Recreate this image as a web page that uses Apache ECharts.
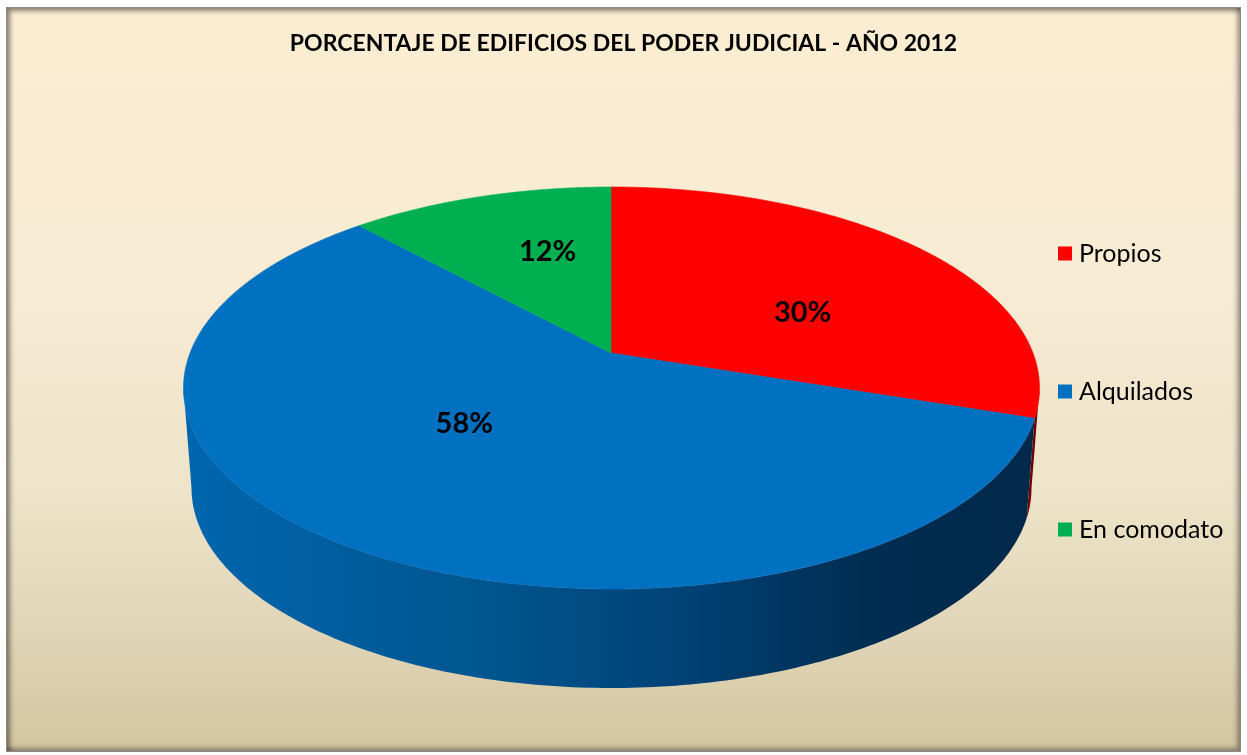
<!DOCTYPE html>
<html><head><meta charset="utf-8">
<script src="https://cdn.jsdelivr.net/npm/echarts@6/dist/echarts.min.js"></script>
<style>
html,body{margin:0;padding:0;background:#fff;width:1247px;height:755px;overflow:hidden}
#frame{position:absolute;left:6px;top:7px;width:1233px;height:743px;border:1px solid #8a8a8a;
background:linear-gradient(to bottom,#FCEDD2 0%,#F8ECD4 35%,#EEE4C9 65%,#DFD4B6 85%,#D3C5A0 100%);
box-shadow: inset 3px 3px 5px rgba(0,0,0,0.45), inset -3px -3px 5px rgba(0,0,0,0.35);}
#chart{position:absolute;left:0;top:0;width:1247px;height:755px}
</style></head><body><div id="frame"></div><div id="chart"></div>
<script>
const categories = ['Propios', 'Alquilados', 'En comodato'];
const values = [30, 58, 12];
const chartTitle = 'PORCENTAJE DE EDIFICIOS DEL PODER JUDICIAL - AÑO 2012';

const topColors = ['#FF0000', '#0070C0', '#00B050'];
const sideStops = [
  [[0,'#B00000'],[1,'#700000']],
  [[0,'#0066AE'],[0.35,'#00568F'],[0.55,'#00457A'],[0.8,'#002D52'],[1,'#00284A']],
  [[0,'#009040'],[1,'#005020']]
];

const total = values.reduce((a,b)=>a+b,0);
const starts = []; let acc = 0;
values.forEach(v => { starts.push(acc / total * 360); acc += v; });

// projected 3D pie layout
const G = {ax:611, ay:353, cx:611.5, cy:388, rx:428, ry:201, k:0.475, bcx:611.5, bcy:488, brx:420, bry:200};
function rim(theta){
  const r = theta*Math.PI/180;
  const dx = Math.sin(r), dy = -G.k*Math.cos(r);
  const px = G.ax-G.cx, py = G.ay-G.cy;
  const rx2 = G.rx*G.rx, ry2 = G.ry*G.ry;
  const A = dx*dx/rx2 + dy*dy/ry2;
  const B = 2*(px*dx/rx2 + py*dy/ry2);
  const C = px*px/rx2 + py*py/ry2 - 1;
  const s = (-B + Math.sqrt(B*B-4*A*C))/(2*A);
  const x = G.ax + s*dx, y = G.ay + s*dy;
  const t = Math.atan2((y-G.cy)/G.ry, (x-G.cx)/G.rx);
  return {x, y, t};
}
function thetaOf(x, y){
  let th = Math.atan2(x-G.ax, -(y-G.ay)/G.k)*180/Math.PI;
  if (th < 0) th += 360;
  return th;
}
const critical = [thetaOf(G.cx+G.rx, G.cy), thetaOf(G.cx-G.rx, G.cy)];

function sliceRange(i){
  return [starts[i], starts[i] + values[i]/total*360];
}
function samples(i, extra){
  const [a,b] = sliceRange(i);
  const n = 240, arr = [];
  for (let j=0;j<=n;j++) arr.push(a + (b-a)*j/n);
  if (extra) critical.forEach(c => { if (c>a && c<b) arr.push(c); });
  arr.sort((p,q)=>p-q);
  return arr;
}
// label anchor: rotated mid-angle, radial fraction in apex-centred ellipse space
function labelPos(i){
  const [a,b] = sliceRange(i);
  const span = b - a;
  const w = Math.min(1, span/100);
  const th = ((a+b)/2 + 12*w) * Math.PI/180;
  const f = 0.49 + 0.06*(1-w);
  return [G.ax + f*G.rx*Math.sin(th), G.ay - f*G.ry*Math.cos(th)];
}

function renderSide(params, api){
  const i = params.dataIndex;
  const topPts = [], botPts = [];
  samples(i, true).forEach(th => {
    const p = rim(th);
    if (Math.sin(p.t) >= -1e-6) {
      topPts.push([p.x, p.y]);
      botPts.push([G.bcx + G.brx*Math.cos(p.t), G.bcy + G.bry*Math.max(0,Math.sin(p.t))]);
    }
  });
  if (topPts.length < 2) return null;
  const pts = topPts.concat(botPts.reverse());
  return {
    type:'polygon', shape:{points: pts},
    style:{fill: new echarts.graphic.LinearGradient(G.cx-G.rx, 0, G.cx+G.rx, 0,
      sideStops[i].map(s=>({offset:s[0], color:s[1]})), true), stroke:'none'}
  };
}

function makeTopRenderer(i){
  return function(params, api){
    const pts = [[G.ax, G.ay]];
    samples(i, false).forEach(th => { const p = rim(th); pts.push([p.x, p.y]); });
    const c = labelPos(i);
    return {
      type:'group',
      children:[
        {type:'polygon', shape:{points: pts}, style:{fill: topColors[i], stroke: topColors[i], lineWidth: 0.6}},
        {type:'text', x:c[0], y:c[1], z2: 10,
         style:{text: Math.round(values[i]/total*100)+'%', fill:'#000', font:'bold 29px Lato',
                align:'center', verticalAlign:'middle'}}
      ]
    };
  };
}

const series = [{
  type:'custom', name:'side', coordinateSystem:'none', z:1, silent:true,
  data: categories.map((c,i)=>({name:c, value:[i, values[i]]})),
  renderItem: renderSide
}];
categories.forEach((c,i)=>{
  series.push({
    type:'custom', name:c, coordinateSystem:'none', z:2, silent:true,
    itemStyle:{color: topColors[i]},
    data:[{name:c, value:[i, values[i]]}],
    renderItem: makeTopRenderer(i)
  });
});

const chart = echarts.init(document.getElementById('chart'), null, {renderer:'canvas'});
chart.setOption({
  animation:false,
  backgroundColor:'transparent',
  title:{text: chartTitle, left:'center', top:32, padding:0,
    textStyle:{fontFamily:'Lato', fontWeight:'bold', fontSize:23, color:'#000'}},
  legend:{
    data: categories, orient:'vertical', left:1058, top:241, padding:0, selectedMode:false,
    icon:'rect', itemWidth:14, itemHeight:14, itemGap:113,
    textStyle:{fontFamily:'Lato', fontSize:25, color:'#000', lineHeight:24, padding:[0,0,0,2]}
  },
  series: series
});
</script></body></html>
